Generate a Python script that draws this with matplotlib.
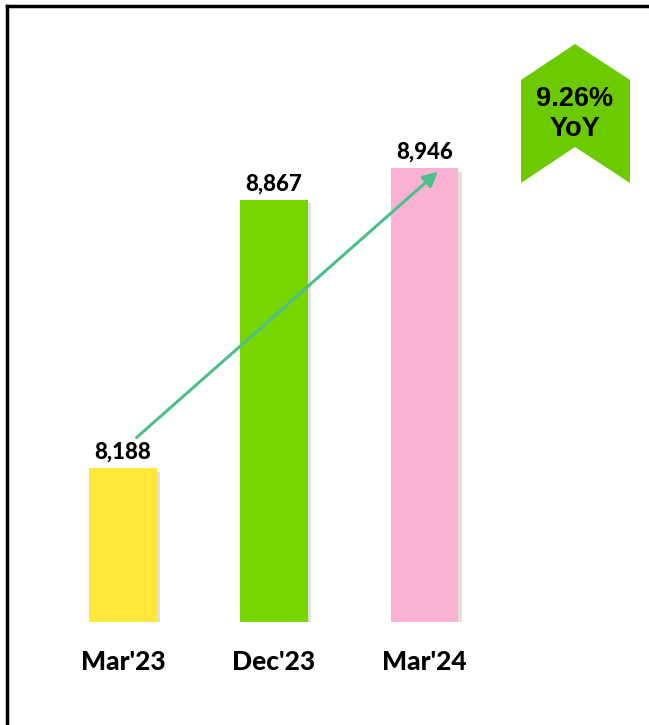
import matplotlib
matplotlib.use("Agg")
import matplotlib.pyplot as plt
from matplotlib.patches import Polygon
from matplotlib.lines import Line2D
import matplotlib.patheffects as pe

categories = ["Mar'23", "Dec'23", "Mar'24"]
values = [8188, 8867, 8946]
bar_colors = ["#FFE83A", "#77D600", "#F9B2D4"]
badge_lines = ["9.26%", "YoY"]

W, H = 649, 725
fig = plt.figure(figsize=(W / 100, H / 100), dpi=100)
fig.patch.set_facecolor("white")

# frame lines (top and left)
fig.add_artist(Line2D([7 / W, 1], [1 - 6 / H, 1 - 6 / H], color="black", lw=2.5, transform=fig.transFigure))
fig.add_artist(Line2D([7 / W, 7 / W], [0, 1 - 6 / H], color="black", lw=2.5, transform=fig.transFigure))

ax = fig.add_axes([47.6 / W, (H - 622) / H, 452.25 / W, 514.5 / H])
ax.set_xlim(-0.5, 2.5)
ax.set_ylim(7800, 9100)
ax.axis("off")

x = list(range(len(categories)))
bars = ax.bar(x, values, width=0.45, color=bar_colors, bottom=0)
for b in bars:
    b.set_path_effects([pe.SimplePatchShadow(offset=(2.5, -2.5), shadow_rgbFace="#999999", alpha=0.3), pe.Normal()])

for xi, v in zip(x, values):
    ax.annotate(f"{v:,}", (xi, v), xytext=(0, 4), textcoords="offset points",
                ha="center", va="bottom", fontsize=16, fontweight=900, family="Lato", color="black")

for xi, c in zip(x, categories):
    ax.annotate(c, (xi, 7800), xytext=(0, -29), textcoords="offset points",
                ha="center", va="center", fontsize=19, fontweight=900, family="Lato", color="black",
                annotation_clip=False)

# growth arrow
ax.annotate("", xy=(2 + 0.09, values[2] - 8), xytext=(0 + 0.09, values[0] + 78),
            arrowprops=dict(arrowstyle="-|>", color="#4DBF8C", lw=2.2, mutation_scale=22,
                            shrinkA=0, shrinkB=0))

# badge
pts = [(575, 44), (630, 80), (630, 183), (575, 147), (521, 183), (521, 80)]
poly = Polygon([(px / W, 1 - py / H) for px, py in pts], closed=True, facecolor="#6CCB00",
               edgecolor="none", transform=fig.transFigure)
fig.add_artist(poly)
fig.text(575 / W, 1 - 99 / H, badge_lines[0], ha="center", va="center", fontsize=19.5,
         fontweight="bold", family="Liberation Sans", color="black")
fig.text(575 / W, 1 - 129 / H, badge_lines[1], ha="center", va="center", fontsize=19.5,
         fontweight="bold", family="Liberation Sans", color="black")

fig.savefig("out.png", dpi=100, facecolor="white")
